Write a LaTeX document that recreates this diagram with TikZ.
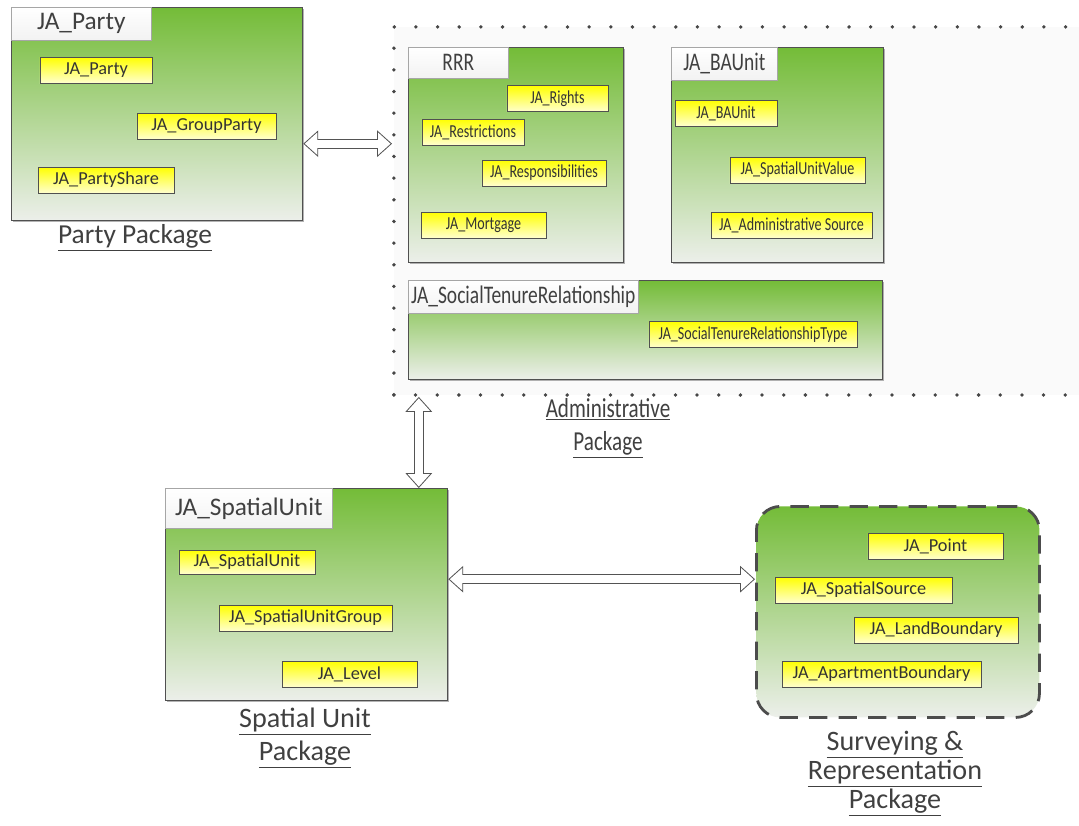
\documentclass[tikz,border=0pt]{standalone}
\usepackage{fontspec}
\usepackage{graphicx}
\setmainfont{Carlito}
\usetikzlibrary{arrows.meta,shadows}

\definecolor{pkgGreen}{RGB}{116,188,56}
\definecolor{pkgPale}{RGB}{236,239,234}
\definecolor{itemYellow}{RGB}{255,255,0}
\definecolor{itemPale}{RGB}{255,255,205}
\definecolor{edgeGray}{RGB}{80,80,80}

% the administrative package is drawn narrower
\newcommand{\narrowtext}[1]{\scalebox{0.77}[1]{#1}}

\tikzset{
	pkgbox/.style={draw=edgeGray, line width=0.9pt, top color=pkgGreen, middle color=pkgGreen!60!pkgPale,
		bottom color=pkgPale, anchor=north west, inner sep=0pt,
		drop shadow={shadow xshift=1pt, shadow yshift=-1pt, opacity=0.6}},
	tabbox/.style={draw=gray!70, top color=white, bottom color=gray!10, anchor=north west,
		inner sep=0pt, text=black!75},
	bigtitle/.style={font=\fontsize{18}{20}\selectfont},
	itembox/.style={draw=edgeGray, line width=0.6pt, top color=itemYellow, bottom color=itemPale,
		inner sep=0pt, minimum height=0.65cm, text=black!80, font=\fontsize{13}{14}\selectfont},
	adminbox/.style={draw=gray!55!black, line width=2.7pt, dash pattern=on 0pt off 15.4pt,
		line cap=round, fill=gray!4, anchor=north west},
	surveybox/.style={draw=black!70, line width=2pt, dash pattern=on 13pt off 8pt,
		rounded corners=0.6cm, top color=pkgGreen, middle color=pkgGreen!60!pkgPale,
		bottom color=pkgPale, anchor=north west},
	pkglabel/.style={align=center, text=black!75, font=\fontsize{19.5}{21}\selectfont},
	% hollow double-headed arrow: a grey arrow with a white one laid over it
	linkouter/.style={draw=gray!65!black, line width=7.1pt,
		{Triangle[length=10.6pt, width=19pt, line width=0pt]}-{Triangle[length=10.6pt, width=19pt, line width=0pt]}},
	linkinner/.style={draw=white, line width=5.7pt, shorten >=1.05pt, shorten <=1.05pt,
		{Triangle[length=8.85pt, width=15.9pt, line width=0pt]}-{Triangle[length=8.85pt, width=15.9pt, line width=0pt]}}
}

\begin{document}
\begin{tikzpicture}[x=0.025cm, y=-0.025cm]

	\useasboundingbox (0,0) rectangle (1079,825);

	% party package
	\node[pkgbox, minimum width=7.275cm, minimum height=5.325cm] (party) at (11,7) {};
	\node[tabbox, bigtitle, minimum width=3.5cm, minimum height=0.825cm] (partytab) at (party.north west) {JA\_Party};
	\node[itembox, minimum width=2.8cm] (party1) at (96,70) {JA\_Party};
	\node[itembox, minimum width=3.475cm] (party2) at (206.5,126) {JA\_GroupParty};
	\node[itembox, minimum width=3.4cm] (party3) at (106,180) {JA\_PartyShare};
	\node[pkglabel] (partylabel) at (135,238) {\underline{Party Package}};

	% administrative package
	\node[adminbox, minimum width=17.325cm, minimum height=9.2cm] (admin) at (392,25) {};

	\node[pkgbox, minimum width=5.375cm, minimum height=5.375cm] (rrr) at (408,47) {};
	\node[tabbox, bigtitle, minimum width=2.5cm, minimum height=0.775cm] (rrrtab) at (rrr.north west) {\narrowtext{RRR}};
	\node[itembox, minimum width=2.525cm] (rrr1) at (557.5,98.5) {\narrowtext{JA\_Rights}};
	\node[itembox, minimum width=2.55cm] (rrr2) at (473,132) {\narrowtext{JA\_Restrictions}};
	\node[itembox, minimum width=3.1cm] (rrr3) at (544,173) {\narrowtext{JA\_Responsibilities}};
	\node[itembox, minimum width=3.125cm] (rrr4) at (483.5,225) {\narrowtext{JA\_Mortgage}};

	\node[pkgbox, minimum width=5.3cm, minimum height=5.375cm] (ba) at (671,47) {};
	\node[tabbox, bigtitle, minimum width=2.65cm, minimum height=0.825cm] (batab) at (ba.north west) {\narrowtext{JA\_BAUnit}};
	\node[itembox, minimum width=2.55cm] (ba1) at (726,113) {\narrowtext{JA\_BAUnit}};
	\node[itembox, minimum width=3.375cm] (ba2) at (797.5,170) {\narrowtext{JA\_SpatialUnitValue}};
	\node[itembox, minimum width=4.025cm] (ba3) at (791.5,225) {\narrowtext{JA\_Administrative Source}};

	\node[pkgbox, minimum width=11.85cm, minimum height=2.475cm] (str) at (408,280) {};
	\node[tabbox, bigtitle, minimum width=5.75cm, minimum height=0.825cm] (strtab) at (str.north west) {\narrowtext{JA\_SocialTenureRelationship}};
	\node[itembox, minimum width=5.2cm] (str1) at (753,334.5) {\narrowtext{JA\_SocialTenureRelationshipType}};

	\node[pkglabel, font=\fontsize{19.5}{23.5}\selectfont] (adminlabel) at (608,428) {\narrowtext{\underline{Administrative}}\\\narrowtext{\underline{Package}}};

	% spatial unit package
	\node[pkgbox, minimum width=7.05cm, minimum height=5.3cm] (spatial) at (165,488) {};
	\node[tabbox, bigtitle, minimum width=4.175cm, minimum height=1cm] (spatialtab) at (spatial.north west) {JA\_SpatialUnit};
	\node[itembox, minimum width=3.4cm, minimum height=0.6cm] (spatial1) at (247,562) {JA\_SpatialUnit};
	\node[itembox, minimum width=4.325cm] (spatial2) at (305.5,618) {JA\_SpatialUnitGroup};
	\node[itembox, minimum width=3.375cm] (spatial3) at (349.5,674) {JA\_Level};
	\node[pkglabel, font=\fontsize{20}{23.5}\selectfont] (spatiallabel) at (305,738) {\underline{Spatial Unit}\\\underline{Package}};

	% surveying package
	\node[surveybox, minimum width=7.075cm, minimum height=5.275cm] (survey) at (755,505) {};
	\node[itembox, minimum width=3.375cm] (survey1) at (935.5,546) {JA\_Point};
	\node[itembox, minimum width=4.425cm] (survey2) at (863.5,590) {JA\_SpatialSource};
	\node[itembox, minimum width=4.1cm] (survey3) at (936,630) {JA\_LandBoundary};
	\node[itembox, minimum width=4.975cm] (survey4) at (881.5,674) {JA\_ApartmentBoundary};
	\node[pkglabel, font=\fontsize{20}{20.6}\selectfont] (surveylabel) at (895,774) {\underline{Surveying \&}\\\underline{Representation}\\\underline{Package}};

	% links
	\coordinate (pa) at ([yshift=-21pt]party.east);
	\draw[linkouter] (pa) -- (pa -| admin.west);
	\draw[linkinner] (pa) -- (pa -| admin.west);
	\coordinate (sa) at ([xshift=-21pt]spatial.north east);
	\draw[linkouter] (sa) -- (sa |- admin.south);
	\draw[linkinner] (sa) -- (sa |- admin.south);
	\coordinate (sb) at ([yshift=11pt]spatial.east);
	\draw[linkouter] (sb) -- (sb -| survey.west);
	\draw[linkinner] (sb) -- (sb -| survey.west);

\end{tikzpicture}
\end{document}
